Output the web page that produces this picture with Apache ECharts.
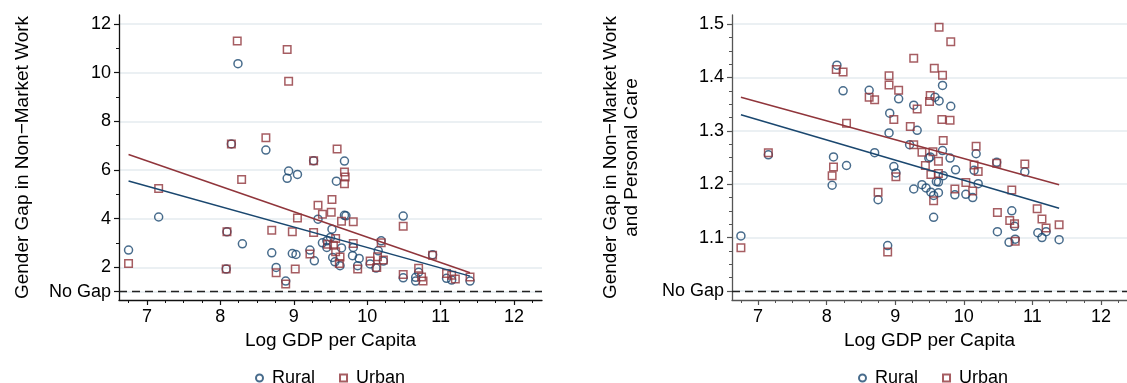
<!DOCTYPE html>
<html>
<head>
<meta charset="utf-8">
<script src="https://cdn.jsdelivr.net/npm/echarts@6/dist/echarts.min.js"></script>
<style>
  html, body { margin: 0; padding: 0; background: #fff; }
  #chart { width: 1127px; height: 383px; }
</style>
</head>
<body>
<div id="chart"></div>
<script>
// Log GDP per capita vs. female/male time ratio, by rural and urban areas.
// Left panel: non-market work. Right panel: non-market work plus personal care.

const xTicks = [7, 8, 9, 10, 11, 12];
const leftYTicks = [1, 2, 4, 6, 8, 10, 12];
const rightYTicks = [1, 1.1, 1.2, 1.3, 1.4, 1.5];

const leftRural = [
  [8.24,10.37],[8.62,6.82],[9.27,6.38],[8.93,5.96],[8.91,5.66],[9.05,5.82],[7.16,4.07],[6.75,2.71],
  [8.09,3.46],[8.08,1.93],[8.15,7.07],[8.30,2.97],[8.70,2.60],[8.76,2.00],[8.89,1.44],[8.98,2.57],
  [9.03,2.53],[9.33,3.98],[9.39,3.01],[9.22,2.71],[9.28,2.27],[9.69,6.37],[9.58,5.54],[9.69,4.14],
  [9.71,4.12],[9.52,3.57],[9.50,3.23],[9.45,3.09],[9.45,2.82],[9.65,2.80],[9.81,2.82],[9.53,2.41],
  [9.56,2.23],[9.63,2.07],[9.80,2.48],[9.89,2.37],[9.87,2.07],[10.04,2.14],[10.12,1.97],[10.15,2.68],
  [10.22,2.26],[10.19,3.09],[10.49,4.11],[10.49,1.57],[10.70,1.80],[10.66,1.59],[10.66,1.44],[10.89,2.52],
  [11.08,1.55],[11.15,1.48],[11.40,1.44]
];
const leftUrban = [
  [8.23,11.30],[8.91,10.95],[8.93,9.65],[8.15,7.07],[8.62,7.33],[9.27,6.38],[9.59,6.86],[8.29,5.61],
  [7.16,5.24],[6.75,2.16],[8.09,3.46],[8.08,1.93],[8.70,3.53],[8.76,1.78],[8.89,1.32],[8.98,3.46],
  [9.05,4.03],[9.02,1.93],[9.27,3.43],[9.33,4.55],[9.39,4.18],[9.22,2.55],[9.69,5.92],[9.70,5.71],
  [9.69,5.44],[9.52,4.79],[9.51,4.27],[9.81,3.87],[9.65,3.90],[9.57,3.19],[9.46,2.95],[9.54,2.91],
  [9.81,2.98],[9.57,2.64],[9.63,2.43],[9.62,2.16],[9.87,1.93],[10.04,2.26],[10.13,2.00],[10.14,2.44],
  [10.22,2.30],[10.19,3.01],[10.49,3.69],[10.49,1.71],[10.70,1.96],[10.74,1.61],[10.76,1.44],[10.89,2.50],
  [11.08,1.75],[11.15,1.68],[11.20,1.52],[11.40,1.61]
];
const leftRuralFit = [[6.75,5.55],[11.40,1.64]];
const leftUrbanFit = [[6.75,6.64],[11.40,1.78]];

const rightRural = [
  [7.15,1.255],[8.15,1.423],[8.24,1.375],[8.10,1.251],[8.70,1.259],[8.62,1.376],[9.05,1.360],[8.92,1.333],
  [8.91,1.296],[9.27,1.348],[9.32,1.301],[9.21,1.274],[9.58,1.363],[9.51,1.251],[9.49,1.249],[9.69,1.385],
  [9.64,1.356],[9.81,1.346],[10.18,1.257],[9.69,1.263],[8.08,1.198],[8.29,1.235],[8.98,1.233],[9.01,1.221],
  [8.75,1.171],[8.89,1.085],[6.75,1.103],[9.27,1.191],[9.39,1.199],[9.45,1.193],[9.52,1.185],[9.56,1.179],
  [9.56,1.138],[9.60,1.205],[9.80,1.249],[9.70,1.216],[9.63,1.204],[9.88,1.227],[10.15,1.226],[10.21,1.201],
  [10.03,1.181],[9.87,1.180],[10.13,1.175],[9.63,1.184],[10.48,1.241],[10.89,1.223],[10.49,1.111],[10.70,1.150],
  [10.74,1.121],[10.66,1.091],[10.75,1.097],[11.08,1.109],[11.14,1.100],[11.20,1.111],[11.39,1.096]
];
const rightUrban = [
  [7.15,1.259],[8.14,1.415],[8.24,1.410],[8.29,1.314],[8.62,1.363],[8.70,1.358],[8.91,1.403],[8.91,1.386],
  [9.05,1.376],[8.98,1.321],[9.27,1.436],[9.32,1.341],[9.22,1.308],[9.27,1.274],[9.39,1.260],[9.51,1.366],
  [9.50,1.355],[9.57,1.417],[9.55,1.261],[9.64,1.494],[9.81,1.467],[9.69,1.404],[9.68,1.321],[9.80,1.320],
  [9.70,1.282],[10.18,1.271],[8.10,1.232],[8.08,1.216],[9.01,1.214],[8.75,1.185],[8.89,1.073],[6.75,1.081],
  [9.56,1.169],[9.44,1.235],[9.52,1.218],[9.63,1.243],[9.63,1.220],[10.15,1.236],[10.21,1.224],[10.03,1.203],
  [9.87,1.191],[10.13,1.187],[10.48,1.239],[10.89,1.238],[10.70,1.189],[10.49,1.147],[10.67,1.132],[10.74,1.126],
  [10.75,1.093],[11.07,1.154],[11.14,1.135],[11.20,1.118],[11.39,1.124]
];
const rightRuralFit = [[6.75,1.330],[11.39,1.155]];
const rightUrbanFit = [[6.75,1.363],[11.39,1.199]];

const FONT = 'Liberation Sans';
const NAVY = '#1a476f';
const MAROON = '#90353b';
const GRID_COLOR = '#e4ebef';

// minor tick positions between labelled ticks
function steps(from, to, step, skipEvery) {
  const out = [];
  const n = Math.round((to - from) / step);
  for (let i = 0; i <= n; i++) {
    const v = +(from + i * step).toFixed(4);
    if (Math.abs(v / skipEvery - Math.round(v / skipEvery)) > 1e-6) out.push(v);
  }
  return out;
}
const xMinor = steps(6.75, 12.25, 0.25, 1);
const leftYMinor = [3, 5, 7, 9, 11];
const rightYMinor = steps(1.0, 1.5, 0.025, 0.1);

function mainX(grid, axisColor) {
  return {
    type: 'value', gridIndex: grid, position: 'bottom', min: 6.62, max: 12.38,
    name: 'Log GDP per Capita', nameLocation: 'middle', nameGap: 29,
    nameTextStyle: { fontFamily: FONT, fontSize: 19, color: '#000' },
    axisLine: { show: true, onZero: false, lineStyle: { color: axisColor, width: 1.3 } },
    axisTick: { show: true, length: 5, customValues: xTicks, lineStyle: { color: axisColor, width: 1.2 } },
    axisLabel: { customValues: xTicks, margin: 8, fontFamily: FONT, fontSize: 18, color: '#000' },
    splitLine: { show: false }
  };
}
function minorX(grid, axisColor) {
  return {
    type: 'value', gridIndex: grid, position: 'bottom', min: 6.62, max: 12.38,
    axisLine: { show: false, onZero: false },
    axisTick: { show: true, length: 3, customValues: xMinor, lineStyle: { color: axisColor, width: 1 } },
    axisLabel: { show: false },
    splitLine: { show: false }
  };
}
function mainY(grid, min, max, ticks, fmt, name, nameGap, axisColor) {
  return {
    type: 'value', gridIndex: grid, position: 'left', min: min, max: max,
    name: name, nameLocation: 'middle', nameGap: nameGap,
    nameTextStyle: { fontFamily: FONT, fontSize: 19, color: '#000', lineHeight: 21 },
    axisLine: { show: true, onZero: false, lineStyle: { color: axisColor, width: 1.3 } },
    axisTick: { show: true, length: 5, customValues: ticks, lineStyle: { color: axisColor, width: 1.2 } },
    axisLabel: { customValues: ticks, margin: 8, fontFamily: FONT, fontSize: 18, color: '#000', formatter: fmt },
    splitLine: { show: true, lineStyle: { color: GRID_COLOR, width: 1.5 } }
  };
}
function minorY(grid, min, max, ticks, axisColor) {
  return {
    type: 'value', gridIndex: grid, position: 'left', min: min, max: max,
    axisLine: { show: false, onZero: false },
    axisTick: { show: true, length: 3, customValues: ticks, lineStyle: { color: axisColor, width: 1 } },
    axisLabel: { show: false },
    splitLine: { show: false }
  };
}

function scatter(name, data, xi, yi, symbol, color) {
  return {
    type: 'scatter', name: name, xAxisIndex: xi, yAxisIndex: yi, data: data,
    symbol: symbol, symbolSize: symbol === 'circle' ? 8 : 7.5,
    itemStyle: { color: 'rgba(255,255,255,0)', borderColor: color, borderWidth: 1.5 },
    emphasis: { disabled: true }, z: 3
  };
}
function fit(name, data, xi, yi, color, withBaseline) {
  const s = {
    type: 'line', name: name, xAxisIndex: xi, yAxisIndex: yi, data: data,
    symbol: 'none', lineStyle: { color: color, width: 1.5 }, z: 4,
    emphasis: { disabled: true }
  };
  if (withBaseline) {
    // dashed reference line where the female/male ratio equals one
    s.markLine = {
      silent: true, symbol: 'none', label: { show: false },
      lineStyle: { color: '#222', type: [8, 5], width: 1.3 },
      data: [{ yAxis: 1 }]
    };
  }
  return s;
}

function legend(left) {
  return {
    left: left, top: 364, orient: 'horizontal', selectedMode: false,
    itemWidth: 7, itemHeight: 7, itemGap: 24,
    textStyle: { fontFamily: FONT, fontSize: 18, color: '#000', padding: [0, 0, 0, 4] },
    data: [{ name: 'Rural', icon: 'circle' }, { name: 'Urban', icon: 'rect' }]
  };
}

const LEFT_AXIS = '#111';
const RIGHT_AXIS = '#555';

const option = {
  backgroundColor: '#fff',
  animation: false,
  grid: [
    { left: 119, top: 15, width: 423, height: 285 },
    { left: 732, top: 15, width: 403, height: 285 }
  ],
  xAxis: [mainX(0, LEFT_AXIS), minorX(0, LEFT_AXIS), mainX(1, RIGHT_AXIS), minorX(1, RIGHT_AXIS)],
  yAxis: [
    mainY(0, 0.66, 12.37, leftYTicks, v => (v === 1 ? 'No Gap' : String(v)),
      'Gender Gap in Non\u2212Market Work', 86, LEFT_AXIS),
    minorY(0, 0.66, 12.37, leftYMinor, LEFT_AXIS),
    mainY(1, 0.983, 1.517, rightYTicks, v => (v === 1 ? 'No Gap' : v.toFixed(1)),
      'Gender Gap in Non\u2212Market Work\nand Personal Care', 90, RIGHT_AXIS),
    minorY(1, 0.983, 1.517, rightYMinor, RIGHT_AXIS)
  ],
  legend: [legend(250), legend(853)],
  series: [
    fit('Rural fit L', leftRuralFit, 0, 0, NAVY, true),
    fit('Urban fit L', leftUrbanFit, 0, 0, MAROON, false),
    scatter('Rural', leftRural, 0, 0, 'circle', NAVY),
    scatter('Urban', leftUrban, 0, 0, 'rect', MAROON),
    fit('Rural fit R', rightRuralFit, 2, 2, NAVY, true),
    fit('Urban fit R', rightUrbanFit, 2, 2, MAROON, false),
    scatter('Rural', rightRural, 2, 2, 'circle', NAVY),
    scatter('Urban', rightUrban, 2, 2, 'rect', MAROON)
  ]
};

const chart = echarts.init(document.getElementById('chart'), null, { renderer: 'canvas' });
chart.setOption(option);
</script>
</body>
</html>
